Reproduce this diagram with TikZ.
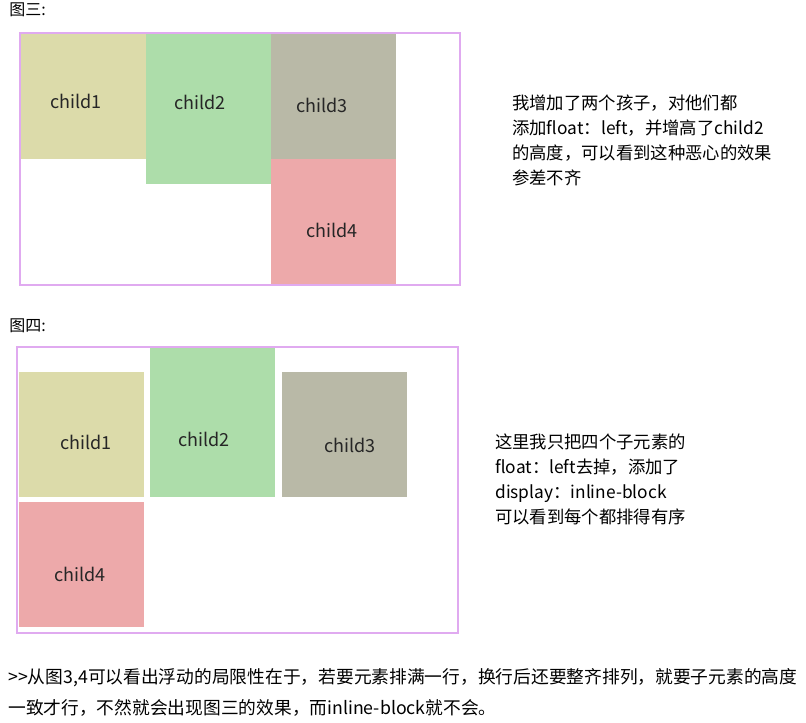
\documentclass[tikz,border=0pt]{standalone}
\usepackage{fontspec}
\setmainfont{Noto Sans CJK SC}
\definecolor{cA}{RGB}{220,219,170}
\definecolor{cB}{RGB}{173,221,170}
\definecolor{cC}{RGB}{185,185,167}
\definecolor{cD}{RGB}{237,169,170}
\definecolor{frame}{RGB}{224,170,240}
\tikzset{
  outer/.style={draw=frame, line width=1.8pt},
  lbl/.style={font=\fontsize{13.5pt}{16pt}\selectfont, inner sep=0pt, text=black!85},
  note/.style={font=\fontsize{13pt}{18.75pt}\selectfont, align=left, anchor=west, inner sep=0pt},
  head/.style={font=\fontsize{12pt}{14pt}\selectfont, anchor=west, inner sep=0pt},
  foot/.style={font=\fontsize{13.3pt}{23.25pt}\selectfont, align=left, anchor=west, inner sep=0pt}
}
\begin{document}
\begin{tikzpicture}[x=0.75pt,y=-0.75pt]
\useasboundingbox[fill=white] (0,0) rectangle (806,722);
% Figure 3
\node[head] (h3) at (9,10) {图三:};
\fill[cA] (21,34) rectangle (146,159);
\fill[cB] (146,34) rectangle (271,184);
\fill[cC] (271,34) rectangle (396,159);
\fill[cD] (271,159) rectangle (396,284);
\draw[outer] (20,33) rectangle (460,285);
\node[lbl] (a1) at (76,101) {child1};
\node[lbl] (a2) at (200,102) {child2};
\node[lbl] (a3) at (322,105) {child3};
\node[lbl] (a4) at (332,230) {child4};
\node[note] (n3) at (512,140.5) {我增加了两个孩子，对他们都\\添加float：left，并增高了child2\\的高度，可以看到这种恶心的效果\\参差不齐};
% Figure 4
\node[head] (h4) at (9,326) {图四:};
\fill[cA] (19,372) rectangle (144,497);
\fill[cB] (150,348) rectangle (275,497);
\fill[cC] (282,372) rectangle (407,497);
\fill[cD] (19,502) rectangle (144,627);
\draw[outer] (17,347) rectangle (458,633);
\node[lbl] (b1) at (86,442) {child1};
\node[lbl] (b2) at (204,439) {child2};
\node[lbl] (b3) at (350,445) {child3};
\node[lbl] (b4) at (80,574) {child4};
\node[note] (n4) at (495,479) {这里我只把四个子元素的\\float：left去掉，添加了\\display：inline-block\\可以看到每个都排得有序};
% Footer
\node[foot] (f) at (8,692.5) {{>}{>}从图3,4可以看出浮动的局限性在于，若要元素排满一行，换行后还要整齐排列，就要子元素的高度\\一致才行，不然就会出现图三的效果，而inline-block就不会。};
\end{tikzpicture}
\end{document}
